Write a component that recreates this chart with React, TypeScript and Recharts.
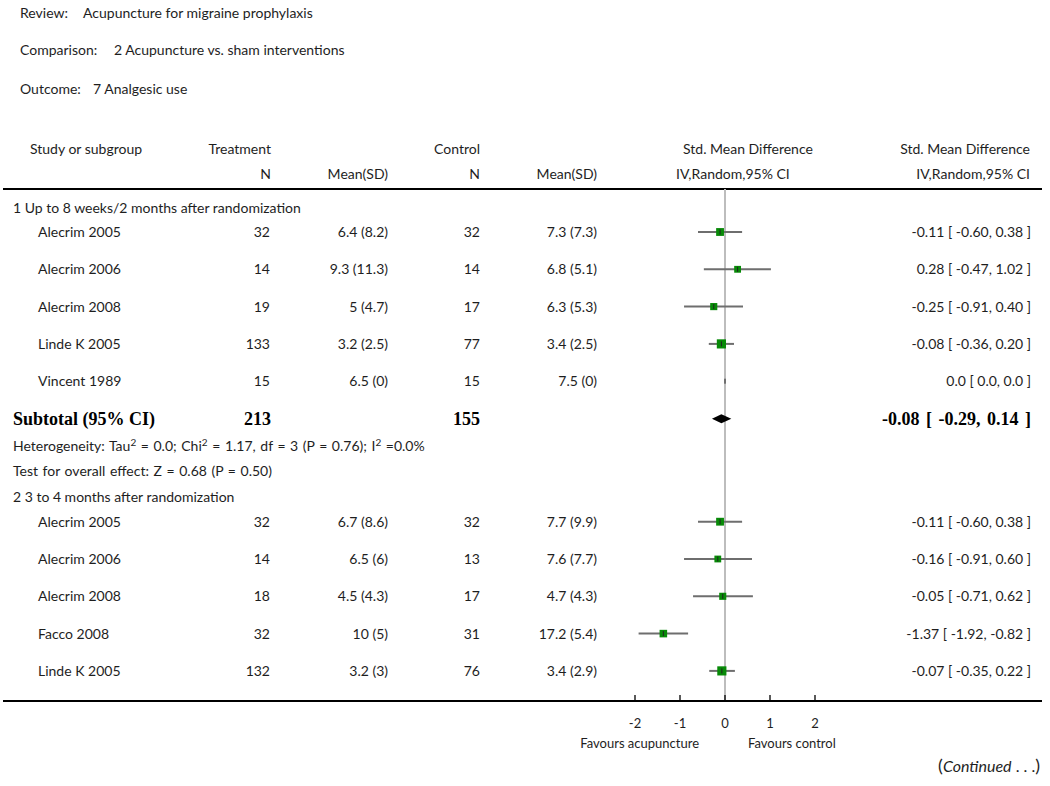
import React from "react";
import {
    ComposedChart,
    Customized,
    ErrorBar,
    ReferenceLine,
    Scatter,
    XAxis,
    YAxis,
} from "recharts";

// 1 Up to 8 weeks/2 months after randomization
const studies1 = ["Alecrim 2005", "Alecrim 2006", "Alecrim 2008", "Linde K 2005", "Vincent 1989"];
const treatN1 = [32, 14, 19, 133, 15];
const treatMean1 = [6.4, 9.3, 5, 3.2, 6.5];
const treatSD1 = [8.2, 11.3, 4.7, 2.5, 0];
const ctrlN1 = [32, 14, 17, 77, 15];
const ctrlMean1 = [7.3, 6.8, 6.3, 3.4, 7.5];
const ctrlSD1 = [7.3, 5.1, 5.3, 2.5, 0];
const smd1 = [-0.11, 0.28, -0.25, -0.08, 0];
const lower1 = [-0.6, -0.47, -0.91, -0.36, 0];
const upper1 = [0.38, 1.02, 0.4, 0.2, 0];

const subtotalN1 = [213, 155];
const subtotalEffect1 = [-0.08, -0.29, 0.14]; // estimate, lower, upper

// 2 3 to 4 months after randomization
const studies2 = ["Alecrim 2005", "Alecrim 2006", "Alecrim 2008", "Facco 2008", "Linde K 2005"];
const treatN2 = [32, 14, 18, 32, 132];
const treatMean2 = [6.7, 6.5, 4.5, 10, 3.2];
const treatSD2 = [8.6, 6, 4.3, 5, 3];
const ctrlN2 = [32, 13, 17, 31, 76];
const ctrlMean2 = [7.7, 7.6, 4.7, 17.2, 3.4];
const ctrlSD2 = [9.9, 7.7, 4.3, 5.4, 2.9];
const smd2 = [-0.11, -0.16, -0.05, -1.37, -0.07];
const lower2 = [-0.6, -0.91, -0.71, -1.92, -0.35];
const upper2 = [0.38, 0.6, 0.62, -0.82, 0.22];

const groupTitles = [
    "1 Up to 8 weeks/2 months after randomization",
    "2 3 to 4 months after randomization",
];
const testText1 = "Test for overall effect: Z = 0.68 (P = 0.50)";
const tickValues = [-2, -1, 0, 1, 2];

// layout
const W = 1050;
const H = 786;
const FONT = "Lato, 'DejaVu Sans', sans-serif";
const SERIF = "'Liberation Serif', 'DejaVu Serif', serif";
const TEXT = "#1e1e1e";
const ZERO_PX = 725;
const PX_PER_UNIT = 45;
const PLOT_LEFT = 3;
const PLOT_RIGHT = 1042;
const AXIS_Y = 701;
const TOP_RULE = 189;
const X_DOMAIN = [(PLOT_LEFT - ZERO_PX) / PX_PER_UNIT, (PLOT_RIGHT - ZERO_PX) / PX_PER_UNIT];

const GAPS: Record<string, number> = {
    "study>study": 37.3,
    "group>study": 24.5,
    "study>subtotal": 37.5,
    "subtotal>het": 27,
    "het>test": 25.5,
    "test>group": 26,
};

function buildStudies(
    names: string[], tn: number[], tm: number[], tsd: number[],
    cn: number[], cm: number[], csd: number[], d: number[], lo: number[], hi: number[],
) {
    return names.map((name, i) => {
        const estimable = tsd[i] > 0 && csd[i] > 0;
        const variance = (tn[i] + cn[i]) / (tn[i] * cn[i]) + (d[i] * d[i]) / (2 * (tn[i] + cn[i]));
        return {
            kind: "study",
            name,
            tn: tn[i],
            tms: `${tm[i]} (${tsd[i]})`,
            cn: cn[i],
            cms: `${cm[i]} (${csd[i]})`,
            smd: d[i],
            err: [d[i] - lo[i], hi[i] - d[i]],
            ci: estimable
                ? `${d[i].toFixed(2)} [ ${lo[i].toFixed(2)}, ${hi[i].toFixed(2)} ]`
                : `${d[i].toFixed(1)} [ ${lo[i].toFixed(1)}, ${hi[i].toFixed(1)} ]`,
            weight: estimable ? 1 / variance : 0,
        };
    });
}

const rowList: any[] = [
    { kind: "group", text: groupTitles[0] },
    ...buildStudies(studies1, treatN1, treatMean1, treatSD1, ctrlN1, ctrlMean1, ctrlSD1, smd1, lower1, upper1),
    { kind: "subtotal" },
    { kind: "het" },
    { kind: "test", text: testText1 },
    { kind: "group", text: groupTitles[1] },
    ...buildStudies(studies2, treatN2, treatMean2, treatSD2, ctrlN2, ctrlMean2, ctrlSD2, smd2, lower2, upper2),
];

let cursor = 207.5;
const rows = rowList.map((r, i) => {
    if (i > 0) cursor += GAPS[`${rowList[i - 1].kind}>${r.kind}`] ?? 26;
    return { ...r, y: cursor };
});

const studyData = rows.filter((r) => r.kind === "study");
const labelData = rows.filter((r) => r.kind !== "study").map((r) => ({ ...r, smd: 0 }));
const subtotalY = rows.find((r) => r.kind === "subtotal")!.y;
const diamondData = [subtotalEffect1[1], subtotalEffect1[0], subtotalEffect1[2]].map((v) => ({
    smd: v,
    y: subtotalY,
}));

function StudyShape(props: any) {
    const { cx, cy, payload } = props;
    const side = payload.weight > 0 ? 4.5 + 1.2 * Math.log(payload.weight) : 0;
    const ty = cy + 5;
    return (
        <g>
            {side > 0 && (
                <rect x={cx - side / 2} y={cy - side / 2} width={side} height={side} fill="#078a07" />
            )}
            <line x1={cx} x2={cx} y1={cy - 2.5} y2={cy + 2.5} stroke="#222" strokeWidth={1} />
            <g fontFamily={FONT} fontSize={14} fill={TEXT}>
                <text x={38} y={ty}>{payload.name}</text>
                <text x={270} y={ty} textAnchor="end">{payload.tn}</text>
                <text x={388} y={ty} textAnchor="end">{payload.tms}</text>
                <text x={480} y={ty} textAnchor="end">{payload.cn}</text>
                <text x={597} y={ty} textAnchor="end">{payload.cms}</text>
                <text x={1031} y={ty} textAnchor="end">{payload.ci}</text>
            </g>
        </g>
    );
}

function LabelShape(props: any) {
    const { cy, payload } = props;
    const ty = cy + 5;
    if (payload.kind === "subtotal") {
        return (
            <g fontFamily={SERIF} fontSize={18} fontWeight="bold" fill="#000">
                <text x={13} y={ty + 1}>Subtotal (95% CI)</text>
                <text x={271} y={ty + 1} textAnchor="end">{subtotalN1[0]}</text>
                <text x={480} y={ty + 1} textAnchor="end">{subtotalN1[1]}</text>
                <text x={1031} y={ty + 1} textAnchor="end" wordSpacing={2}>
                    {`${subtotalEffect1[0].toFixed(2)} [ ${subtotalEffect1[1].toFixed(2)}, ${subtotalEffect1[2].toFixed(2)} ]`}
                </text>
            </g>
        );
    }
    if (payload.kind === "het") {
        return (
            <text x={13} y={ty} fontFamily={FONT} fontSize={14} fill={TEXT} wordSpacing={1}>
                Heterogeneity: Tau
                <tspan dy={-5} fontSize={10}>2</tspan>
                <tspan dy={5}> = 0.0; Chi</tspan>
                <tspan dy={-5} fontSize={10}>2</tspan>
                <tspan dy={5}> = 1.17, df = 3 (P = 0.76); I</tspan>
                <tspan dy={-5} fontSize={10}>2</tspan>
                <tspan dy={5}> =0.0%</tspan>
            </text>
        );
    }
    return (
        <text x={13} y={ty} fontFamily={FONT} fontSize={14} fill={TEXT} wordSpacing={payload.kind === "test" ? 1 : 0}>
            {payload.text}
        </text>
    );
}

function DiamondLine(props: any) {
    const p = props.points;
    if (!p || p.length < 3) return <g />;
    const h = 4.5;
    const pts = `${p[0].x},${p[0].y} ${p[1].x},${p[1].y - h} ${p[2].x},${p[2].y} ${p[1].x},${p[1].y + h}`;
    return <polygon points={pts} fill="#000" />;
}

function AxisTick(props: any) {
    const { x, y, payload } = props;
    return (
        <g>
            <line x1={x} x2={x} y1={y} y2={y - 6} stroke="#000" strokeWidth={1.3} />
            <text x={x} y={y + 27} textAnchor="middle" fontFamily={FONT} fontSize={13} fill={TEXT}>
                {payload.value}
            </text>
        </g>
    );
}

function Headings() {
    return (
        <g fontFamily={FONT} fontSize={14} fill={TEXT}>
            <text x={20} y={18}>Review:</text>
            <text x={83} y={18}>Acupuncture for migraine prophylaxis</text>
            <text x={20} y={55}>Comparison:</text>
            <text x={114} y={55}>2 Acupuncture vs. sham interventions</text>
            <text x={20} y={94}>Outcome:</text>
            <text x={93} y={94}>7 Analgesic use</text>

            <text x={30} y={154}>Study or subgroup</text>
            <text x={271} y={154} textAnchor="end">Treatment</text>
            <text x={480} y={154} textAnchor="end">Control</text>
            <text x={683} y={154}>Std. Mean Difference</text>
            <text x={1030} y={154} textAnchor="end">Std. Mean Difference</text>
            <text x={271} y={179} textAnchor="end">N</text>
            <text x={388} y={179} textAnchor="end">Mean(SD)</text>
            <text x={480} y={179} textAnchor="end">N</text>
            <text x={597} y={179} textAnchor="end">Mean(SD)</text>
            <text x={676} y={179}>IV,Random,95% CI</text>
            <text x={1030} y={179} textAnchor="end">IV,Random,95% CI</text>

            <text x={699} y={748} textAnchor="end" fontSize={13}>Favours acupuncture</text>
            <text x={748} y={748} fontSize={13}>Favours control</text>
            <text x={1040} y={772} textAnchor="end" fontSize={16}>
                <tspan fontSize={18}>(</tspan>
                <tspan fontStyle="italic">Continued</tspan> . . .
                <tspan fontSize={18}>)</tspan>
            </text>
        </g>
    );
}

export default function App() {
    return (
        <div style={{ position: "absolute", left: 0, top: 0, width: W, height: H, background: "#fff" }}>
            <ComposedChart
                width={W}
                height={H}
                margin={{ top: 0, right: W - PLOT_RIGHT, left: PLOT_LEFT, bottom: H - AXIS_Y - 30 }}
            >
                <XAxis
                    type="number"
                    dataKey="smd"
                    domain={X_DOMAIN}
                    ticks={tickValues}
                    height={30}
                    tickSize={0}
                    tickMargin={0}
                    tickLine={false}
                    axisLine={{ stroke: "#000", strokeWidth: 2 }}
                    tick={(p: any) => <AxisTick {...p} />}
                    interval={0}
                />
                <YAxis type="number" dataKey="y" domain={[0, AXIS_Y]} reversed hide width={0} />
                <ReferenceLine y={TOP_RULE} stroke="#000" strokeWidth={2} />
                <ReferenceLine
                    segment={[
                        { x: 0, y: TOP_RULE },
                        { x: 0, y: AXIS_Y },
                    ]}
                    stroke="#bdbdbd"
                    strokeWidth={2}
                />
                <Customized component={<Headings />} />
                <Scatter data={labelData} shape={<LabelShape />} isAnimationActive={false} />
                <Scatter
                    data={diamondData}
                    shape={() => <g />}
                    line={(p: any) => <DiamondLine {...p} />}
                    lineType="joint"
                    isAnimationActive={false}
                />
                <Scatter data={studyData} shape={<StudyShape />} isAnimationActive={false}>
                    <ErrorBar dataKey="err" direction="x" width={0} stroke="#6e6e6e" strokeWidth={2} />
                </Scatter>
            </ComposedChart>
        </div>
    );
}
